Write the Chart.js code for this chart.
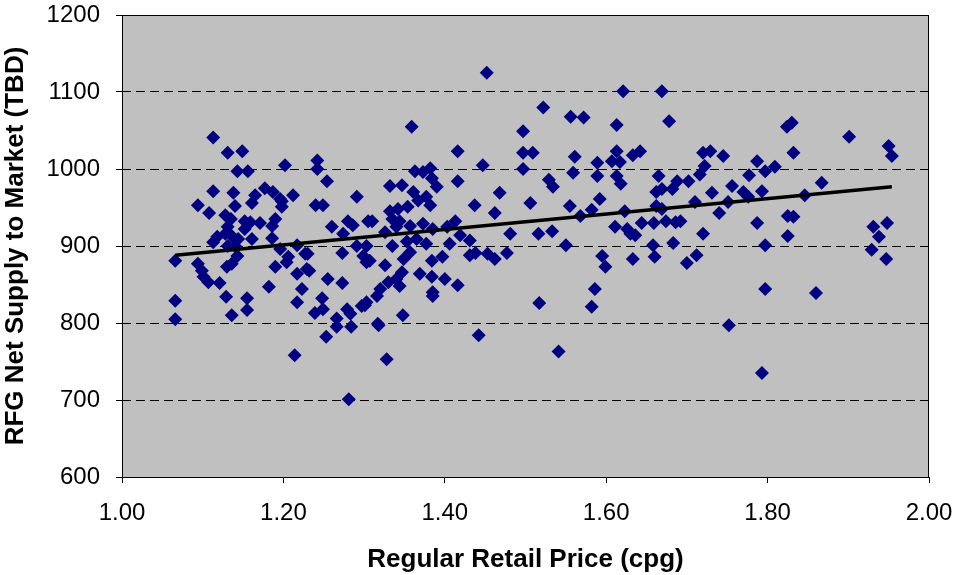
<!DOCTYPE html>
<html>
<head>
<meta charset="utf-8">
<script src="https://cdn.jsdelivr.net/npm/chart.js@4"></script>
<style>
  body { margin: 0; background: #fff; }
</style>
</head>
<body>
<canvas id="myChart" width="954" height="575"></canvas>
<script>
// regular retail price (cpg) vs RFG net supply (TBD)
const priceX = [
  1.066, 1.066, 1.066, 1.113, 1.131, 1.149, 1.143, 1.156, 1.202, 1.242,
  1.242, 1.254, 1.291, 1.113, 1.138, 1.094, 1.108, 1.140, 1.128, 1.165,
  1.161, 1.177, 1.187, 1.196, 1.198, 1.212, 1.240, 1.249, 1.260, 1.274,
  1.280, 1.286, 1.305, 1.171, 1.190, 1.186, 1.152, 1.135, 1.198, 1.159,
  1.131, 1.128, 1.136, 1.118, 1.113, 1.144, 1.152, 1.161, 1.140, 1.131,
  1.186, 1.196, 1.206, 1.204, 1.217, 1.227, 1.229, 1.143, 1.136, 1.130,
  1.094, 1.099, 1.101, 1.107, 1.121, 1.190, 1.217, 1.223, 1.182, 1.129,
  1.155, 1.155, 1.136, 1.217, 1.232, 1.255, 1.273, 1.248, 1.239, 1.249,
  1.266, 1.279, 1.283, 1.266, 1.284, 1.253, 1.301, 1.214, 1.281, 1.273,
  1.230, 1.291, 1.299, 1.303, 1.310, 1.332, 1.347, 1.363, 1.373, 1.382,
  1.390, 1.384, 1.361, 1.367, 1.377, 1.382, 1.354, 1.342, 1.332, 1.335,
  1.344, 1.340, 1.326, 1.357, 1.373, 1.385, 1.403, 1.413, 1.416, 1.416,
  1.303, 1.307, 1.335, 1.326, 1.353, 1.365, 1.377, 1.357, 1.349, 1.384,
  1.397, 1.406, 1.347, 1.340, 1.344, 1.330, 1.320, 1.316, 1.303, 1.297,
  1.369, 1.384, 1.400, 1.385, 1.416, 1.348, 1.317, 1.452, 1.522, 1.556,
  1.359, 1.497, 1.497, 1.509, 1.561, 1.447, 1.497, 1.559, 1.529, 1.534,
  1.468, 1.437, 1.506, 1.462, 1.555, 1.481, 1.516, 1.533, 1.550, 1.419,
  1.431, 1.431, 1.438, 1.453, 1.462, 1.477, 1.385, 1.517, 1.318, 1.442,
  1.541, 1.328, 1.621, 1.669, 1.572, 1.613, 1.678, 1.824, 1.613, 1.642,
  1.633, 1.720, 1.729, 1.745, 1.787, 1.589, 1.607, 1.617, 1.722, 1.797,
  1.809, 1.716, 1.589, 1.613, 1.618, 1.665, 1.688, 1.702, 1.777, 1.662,
  1.669, 1.682, 1.756, 1.731, 1.770, 1.793, 1.592, 1.776, 1.710, 1.751,
  1.582, 1.623, 1.662, 1.669, 1.568, 1.740, 1.611, 1.626, 1.630, 1.644,
  1.659, 1.674, 1.686, 1.692, 1.720, 1.787, 1.825, 1.825, 1.636, 1.658,
  1.683, 1.797, 1.595, 1.599, 1.633, 1.660, 1.700, 1.712, 1.586, 1.582,
  1.797, 1.752, 1.793, 1.830, 1.901, 1.950, 1.954, 1.832, 1.867, 1.846,
  1.832, 1.931, 1.948, 1.938, 1.929, 1.947, 1.860
];
const supplyY = [
  881, 829, 805, 1041, 1021, 1023, 997, 997, 1005, 1011,
  1000, 984, 964, 971, 969, 953, 943, 952, 940, 966,
  956, 975, 970, 961, 951, 966, 953, 953, 925, 916,
  932, 927, 932, 930, 935, 926, 932, 935, 958, 931,
  925, 916, 913, 912, 905, 909, 922, 909, 900, 900,
  910, 896, 886, 879, 901, 890, 870, 887, 877, 873,
  877, 868, 860, 853, 852, 873, 864, 844, 847, 834,
  832, 817, 810, 827, 868, 857, 852, 832, 813, 818,
  806, 818, 812, 795, 795, 782, 823, 758, 701, 891,
  890, 900, 887, 879, 932, 978, 979, 997, 996, 1001,
  977, 988, 970, 959, 964, 953, 951, 948, 945, 935,
  932, 925, 918, 926, 929, 922, 925, 932, 1023, 984,
  900, 881, 900, 875, 906, 909, 903, 892, 883, 881,
  886, 903, 866, 857, 848, 853, 844, 835, 827, 822,
  864, 860, 857, 840, 849, 810, 799, 1125, 1080, 1068,
  1055, 1049, 1021, 1021, 1016, 1005, 1000, 995, 986, 977,
  969, 953, 956, 943, 952, 916, 916, 919, 901, 914,
  907, 888, 891, 890, 883, 891, 835, 826, 797, 784,
  763, 753, 1101, 1101, 1067, 1057, 1062, 1055, 1023, 1023,
  1018, 1021, 1023, 1017, 1010, 1008, 1010, 1009, 1004, 997,
  1003, 993, 991, 991, 981, 991, 984, 984, 992, 970,
  974, 974, 978, 969, 970, 971, 961, 964, 957, 957,
  947, 945, 952, 948, 939, 943, 925, 922, 916, 930,
  930, 932, 931, 932, 916, 930, 939, 913, 914, 901,
  904, 901, 887, 873, 883, 886, 878, 888, 844, 821,
  844, 797, 735, 1060, 1042, 1030, 1017, 1021, 982, 966,
  938, 925, 930, 912, 895, 883, 839
];
// linear trend line end points
const trendX = [1.066, 1.954];
const trendY = [888, 977];
const xTicks = [1.00, 1.20, 1.40, 1.60, 1.80, 2.00];
const yTicks = [600, 700, 800, 900, 1000, 1100, 1200];

const points = priceX.map((x, i) => ({ x: x, y: supplyY[i] }));
const trend = trendX.map((x, i) => ({ x: x, y: trendY[i] }));

// grey plot area with a black frame, like the old Excel charts
const plotBox = {
  id: 'plotBox',
  beforeDraw(chart) {
    const { ctx, chartArea: a } = chart;
    ctx.save();
    ctx.fillStyle = '#c0c0c0';
    ctx.fillRect(a.left, a.top, a.width, a.height);
    ctx.restore();
  },
  afterDraw(chart) {
    const { ctx, chartArea: a } = chart;
    ctx.save();
    ctx.strokeStyle = '#000';
    ctx.lineWidth = 1;
    ctx.strokeRect(a.left + 0.5, a.top + 0.5, a.width - 1, a.height);
    ctx.restore();
  }
};

const cht = document.getElementById('myChart').getContext('2d');
const myChart = new Chart(cht, {
  type: 'scatter',
  data: {
    datasets: [{
      type: 'line',
      data: trend,
      borderColor: '#000',
      borderWidth: 3.5,
      pointRadius: 0,
      fill: false,
      order: 0
    }, {
      data: points,
      pointStyle: 'rectRot',
      pointRadius: 7,
      pointHoverRadius: 7,
      backgroundColor: '#000080',
      borderColor: '#000080',
      borderWidth: 0,
      order: 1
    }]
  },
  options: {
    responsive: false,
    animation: false,
    layout: { padding: { top: 15, right: 25, left: 0, bottom: 0 } },
    plugins: { legend: { display: false }, tooltip: { enabled: false } },
    scales: {
      x: {
        type: 'linear',
        min: 1,
        max: 2,
        afterBuildTicks: (s) => { s.ticks = xTicks.map(v => ({ value: v })); },
        afterFit: (s) => { s.height = 98; s.paddingLeft = 0; s.paddingRight = 0; },
        grid: { drawOnChartArea: false, drawTicks: true, tickLength: 6, color: '#000' },
        border: { display: false },
        ticks: {
          color: '#000',
          padding: 16,
          maxRotation: 0,
          font: { family: 'Liberation Sans', size: 24 },
          callback: (v) => Number(v).toFixed(2)
        },
        title: {
          display: true,
          text: 'Regular Retail Price (cpg)',
          color: '#000',
          padding: { top: 0, bottom: 0 },
          font: { family: 'Liberation Sans', size: 26, weight: 'bold' }
        }
      },
      y: {
        min: 600,
        max: 1200,
        afterBuildTicks: (s) => { s.ticks = yTicks.map(v => ({ value: v })); },
        afterFit: (s) => { s.width = 122; s.paddingTop = 0; s.paddingBottom = 0; },
        grid: { color: '#000', lineWidth: 1, tickLength: 6, tickColor: '#000' },
        border: { display: false, dash: [9, 5] },
        ticks: {
          color: '#000',
          padding: 16,
          font: { family: 'Liberation Sans', size: 24 },
          callback: (v) => String(v)
        },
        title: {
          display: true,
          text: 'RFG Net Supply to Market (TBD)',
          color: '#000',
          padding: { top: 0, bottom: 2 },
          font: { family: 'Liberation Sans', size: 26, weight: 'bold' }
        }
      }
    }
  },
  plugins: [plotBox]
});
</script>
</body>
</html>
